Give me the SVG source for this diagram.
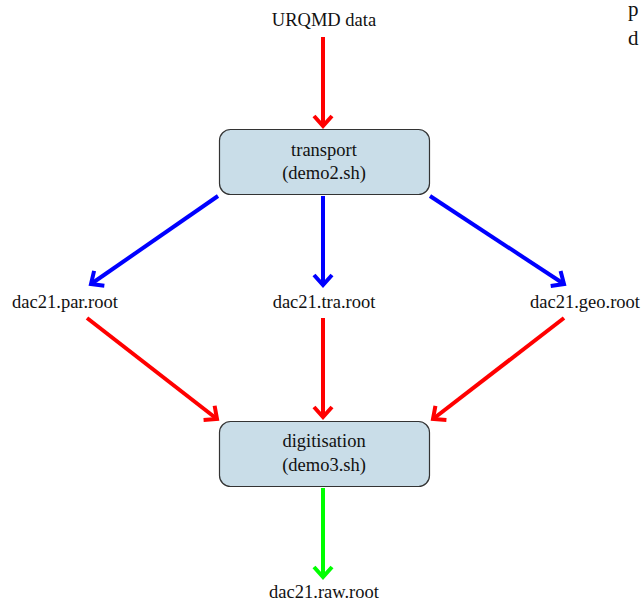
<svg xmlns="http://www.w3.org/2000/svg" width="642" height="602" viewBox="0 0 642 602">
<style>
text{font-family:"Liberation Serif","Times New Roman",serif;font-size:18.5px;fill:#111;text-anchor:middle}
.box{fill:#c9dde8;stroke:#333;stroke-width:1.2}
.c{fill:none;stroke-width:4}
.r{stroke:#ff0000}.b{stroke:#0000ff}.g{stroke:#00ff00}
</style>
<defs>
<marker id="ar" markerUnits="userSpaceOnUse" markerWidth="30" markerHeight="30" viewBox="-15 -15 30 30" orient="auto"><path d="M-10,-9 L0,0 L-10,9" fill="none" stroke="#ff0000" stroke-width="4"/></marker>
<marker id="ab" markerUnits="userSpaceOnUse" markerWidth="30" markerHeight="30" viewBox="-15 -15 30 30" orient="auto"><path d="M-10,-9 L0,0 L-10,9" fill="none" stroke="#0000ff" stroke-width="4"/></marker>
<marker id="ag" markerUnits="userSpaceOnUse" markerWidth="30" markerHeight="30" viewBox="-15 -15 30 30" orient="auto"><path d="M-10,-9 L0,0 L-10,9" fill="none" stroke="#00ff00" stroke-width="4"/></marker>
</defs>
<g id="connectors">
<line class="c r" x1="323" y1="37" x2="323" y2="126" marker-end="url(#ar)"/>
<line class="c b" x1="218" y1="196" x2="91" y2="284" marker-end="url(#ab)"/>
<line class="c b" x1="323" y1="196" x2="323" y2="285" marker-end="url(#ab)"/>
<line class="c b" x1="430" y1="196" x2="564" y2="284" marker-end="url(#ab)"/>
<line class="c r" x1="87" y1="318" x2="217" y2="419" marker-end="url(#ar)"/>
<line class="c r" x1="323" y1="318" x2="323" y2="417" marker-end="url(#ar)"/>
<line class="c r" x1="564" y1="318" x2="433" y2="419" marker-end="url(#ar)"/>
<line class="c g" x1="323" y1="488" x2="323" y2="577" marker-end="url(#ag)"/>
</g>
<g id="urqmd"><text x="324" y="26">URQMD data</text></g>
<g id="transport"><rect class="box" x="219.5" y="129.5" width="210" height="65" rx="11"/><text x="324" y="156">transport</text><text x="324" y="179">(demo2.sh)</text></g>
<g id="par"><text x="65" y="308">dac21.par.root</text></g>
<g id="tra"><text x="324" y="308">dac21.tra.root</text></g>
<g id="geo"><text x="585" y="308">dac21.geo.root</text></g>
<g id="digitisation"><rect class="box" x="219.5" y="421.5" width="210" height="65" rx="11"/><text x="324" y="447">digitisation</text><text x="324" y="471">(demo3.sh)</text></g>
<g id="raw"><text x="324" y="598">dac21.raw.root</text></g>
<g id="corner"><text x="628" y="16" style="text-anchor:start;font-size:21px">p</text><text x="628" y="45" style="text-anchor:start;font-size:21px">d</text></g>
</svg>
